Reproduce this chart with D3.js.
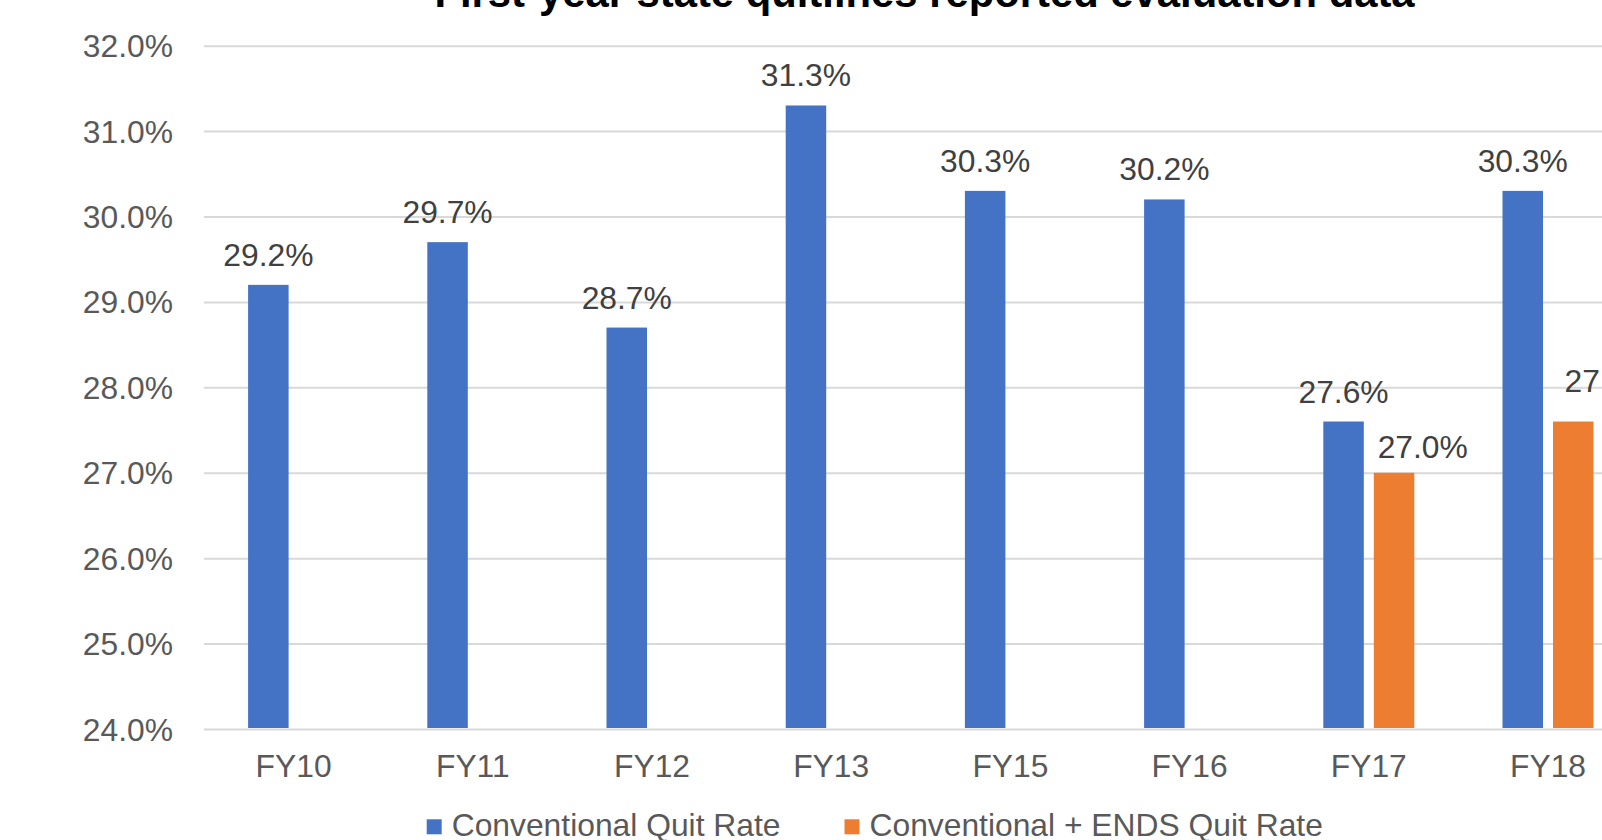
<!DOCTYPE html>
<html>
<head>
<meta charset="utf-8">
<script src="https://cdn.jsdelivr.net/npm/d3@7"></script>
<style>
  html, body { margin: 0; padding: 0; background: #ffffff; overflow: hidden; }
  svg { display: block; font-family: "Liberation Sans", Arial, sans-serif; }
</style>
</head>
<body>
<svg id="chart" width="1602" height="840"></svg>
<script>
// Quit-rate values by fiscal year
const categories = ["FY10", "FY11", "FY12", "FY13", "FY15", "FY16", "FY17", "FY18"];
const conventionalRate = [29.2, 29.7, 28.7, 31.3, 30.3, 30.2, 27.6, 30.3];
const endsRate = [null, null, null, null, null, null, 27.0, 27.6];
const seriesNames = ["Conventional Quit Rate", "Conventional + ENDS Quit Rate"];
const seriesColors = ["#4472C4", "#ED7D31"];
const yTicks = [24, 25, 26, 27, 28, 29, 30, 31, 32];
const title = "First-year state quitlines reported evaluation data";

const svg = d3.select("#chart");
const FONT = "'Liberation Sans', Arial, sans-serif";
const TEXT_SIZE = "31.8px";

// plot area (the right edge runs past the frame)
const plotLeft = 204, plotRight = 204 + 8 * 179.2;
const plotTop = 45.7, plotBottom = 729;

const x0 = d3.scaleBand().domain(categories).range([plotLeft, plotRight]).padding(0);
const groupWidth = 91;
const x1 = d3.scaleBand().domain(seriesNames).range([0, groupWidth]).paddingInner(0.198).paddingOuter(0);
const y = d3.scaleLinear().domain([24, 32]).range([plotBottom, plotTop]);

const color = d3.scaleOrdinal().domain(seriesNames).range(seriesColors);

// title
svg.append("text")
  .attr("x", 924.5).attr("y", 7)
  .attr("text-anchor", "middle")
  .style("font-weight", "bold")
  .style("font-size", "41.8px")
  .style("fill", "#000")
  .text(title);

// gridlines
const grid = svg.append("g")
  .attr("transform", `translate(${plotLeft},0)`)
  .call(d3.axisLeft(y).tickValues(yTicks).tickSize(-(plotRight - plotLeft)).tickFormat(""));
grid.select(".domain").remove();
grid.selectAll(".tick line").attr("stroke", "#d9d9d9").attr("stroke-width", 2);

// y-axis labels
const yAxis = svg.append("g")
  .attr("transform", `translate(173,0)`)
  .call(d3.axisLeft(y).tickValues(yTicks).tickSize(0).tickPadding(0)
    .tickFormat(d => d.toFixed(1) + "%"));
yAxis.select(".domain").remove();
yAxis.selectAll("text")
  .attr("x", 0).attr("dy", null).attr("y", 11)
  .style("font-size", TEXT_SIZE).style("fill", "#595959")
  .style("font-family", FONT);

// x-axis labels
const xAxis = svg.append("g")
  .attr("transform", `translate(0,${plotBottom})`)
  .call(d3.axisBottom(x0).tickSize(0).tickPadding(0));
xAxis.select(".domain").remove();
xAxis.selectAll("text")
  .attr("dy", null).attr("y", 48)
  .style("font-size", TEXT_SIZE).style("fill", "#595959")
  .style("font-family", FONT);

// rows of bar data
const rows = categories.map((c, i) => ({
  category: c,
  values: [
    { series: seriesNames[0], value: conventionalRate[i] },
    { series: seriesNames[1], value: endsRate[i] }
  ].filter(v => v.value !== null)
}));

// hand-placed label nudges for the ENDS series (px)
const labelNudge = { "FY17|1": [28.7, 4], "FY18|1": [36.4, -11] };

const groups = svg.append("g").selectAll("g")
  .data(rows).join("g")
  .attr("transform", d => `translate(${x0(d.category) + x0.bandwidth() / 2 - groupWidth / 2},0)`);

groups.selectAll("rect")
  .data(d => d.values).join("rect")
  .attr("x", d => x1(d.series))
  .attr("width", x1.bandwidth())
  .attr("y", d => y(d.value))
  .attr("height", d => plotBottom - 1 - y(d.value))
  .attr("fill", d => color(d.series));

groups.selectAll("text.val")
  .data(d => d.values.map(v => ({ ...v, category: d.category }))).join("text")
  .attr("class", "val")
  .attr("text-anchor", "middle")
  .attr("x", d => {
    const n = labelNudge[d.category + "|" + seriesNames.indexOf(d.series)];
    return x1(d.series) + x1.bandwidth() / 2 + (n ? n[0] : 0);
  })
  .attr("y", d => {
    const n = labelNudge[d.category + "|" + seriesNames.indexOf(d.series)];
    return y(d.value) - 19 + (n ? n[1] : 0);
  })
  .style("font-size", TEXT_SIZE)
  .style("fill", "#404040")
  .text(d => d.value.toFixed(1) + "%");

// legend
const legendItems = [
  { name: seriesNames[0], sx: 426.7 },
  { name: seriesNames[1], sx: 844.5 }
];
const legend = svg.append("g").selectAll("g")
  .data(legendItems).join("g")
  .attr("transform", d => `translate(${d.sx},819.3)`);
legend.append("rect")
  .attr("width", 15).attr("height", 15)
  .attr("fill", d => color(d.name));
legend.append("text")
  .attr("x", 25).attr("y", 17)
  .style("font-size", TEXT_SIZE)
  .style("fill", "#595959")
  .text(d => d.name);
</script>
</body>
</html>
